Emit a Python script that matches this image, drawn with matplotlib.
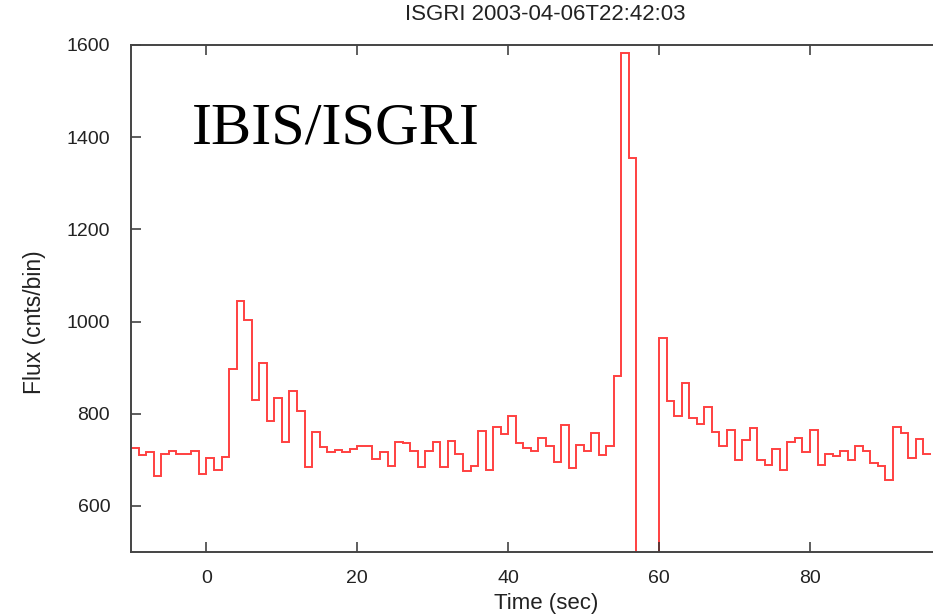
import numpy as np
import matplotlib
matplotlib.use("Agg")
import matplotlib.pyplot as plt

# Light curve: 1-second bins starting at t = -10 s
bin_start = -10
flux = [
    726, 711, 717, 664, 713, 720, 713, 713, 720, 669,          # -10 .. -1
    703, 677, 707, 897, 1045, 1004, 830, 910,                  # 0 .. 7
    784, 834, 738, 850, 805, 684, 761, 727, 717, 722,          # 8 .. 17
    717, 724, 729, 729, 702, 717, 686, 738,                    # 18 .. 25
    736, 720, 684, 720, 738, 684, 741, 713, 675, 686,          # 26 .. 35
    763, 678, 772, 756, 795, 736,                              # 36 .. 41
    726, 720, 747, 730, 695, 776, 682, 732, 720, 759,          # 42 .. 51
    711, 729, 882, 1583, 1354,                                 # 52 .. 56
    0, 0, 0,                                                   # 57 .. 59 (gap)
    964, 828, 796, 866, 790, 778, 815, 760, 730, 765,          # 60 .. 69
    700, 743, 769, 700, 689, 724, 677, 738,                    # 70 .. 77
    747, 718, 765, 688, 712, 709, 720, 700, 729, 720,          # 78 .. 87
    693, 687, 656, 772, 758, 704, 745, 713,                    # 88 .. 95
]
x_ticks = [0, 20, 40, 60, 80]
y_ticks = [600, 800, 1000, 1200, 1400, 1600]
title = "ISGRI 2003-04-06T22:42:03"
xlabel = "Time (sec)"
ylabel = "Flux (cnts/bin)"
inset_label = "IBIS/ISGRI"

W, H = 933, 614
fig = plt.figure(figsize=(W / 100, H / 100), dpi=100)
ax = fig.add_axes([131 / W, 1 - 552 / H, 1 - 131 / W, (552 - 45) / H])

edges = np.arange(bin_start, bin_start + len(flux) + 1)
ax.stairs(flux, edges, color="#ff4040", lw=1.4, baseline=None)

ax.set_xlim(-10, 96.3)
ax.set_ylim(500, 1600)
ax.set_xticks(x_ticks)
ax.set_yticks(y_ticks)

sans = ["Liberation Sans", "DejaVu Sans"]
ax.tick_params(axis="both", direction="in", length=7, width=1.1, color="#333333",
               labelsize=14, labelcolor="#222222", top=True, right=False)
ax.tick_params(axis="x", pad=13)
ax.tick_params(axis="y", pad=15)
for lab in ax.get_xticklabels() + ax.get_yticklabels():
    lab.set_family(sans)

for side in ["left", "bottom", "top"]:
    ax.spines[side].set_color("#444444")
    ax.spines[side].set_linewidth(1.4)
ax.spines["right"].set_visible(False)

ax.set_xlabel(xlabel, fontsize=16, family=sans, color="#222222")
ax.set_ylabel(ylabel, fontsize=16.5, family=sans, color="#222222")
ax.xaxis.set_label_coords((546 - 131) / 802, (552 - 603) / 507)
ax.yaxis.set_label_coords((35 - 131) / 802, (552 - 322) / 507)
ax.xaxis.label.set_va("center")
ax.yaxis.label.set_va("center")

fig.text(545 / W, 1 - 15 / H, title, ha="center", va="center",
         fontsize=16, family=sans, color="#222222")

ax.text(192 / W, 1 - 143 / H, inset_label, transform=fig.transFigure,
        ha="left", va="baseline", fontsize=43.5,
        family=["Liberation Serif", "DejaVu Serif"], color="black")

fig.savefig("out.png", dpi=100)
